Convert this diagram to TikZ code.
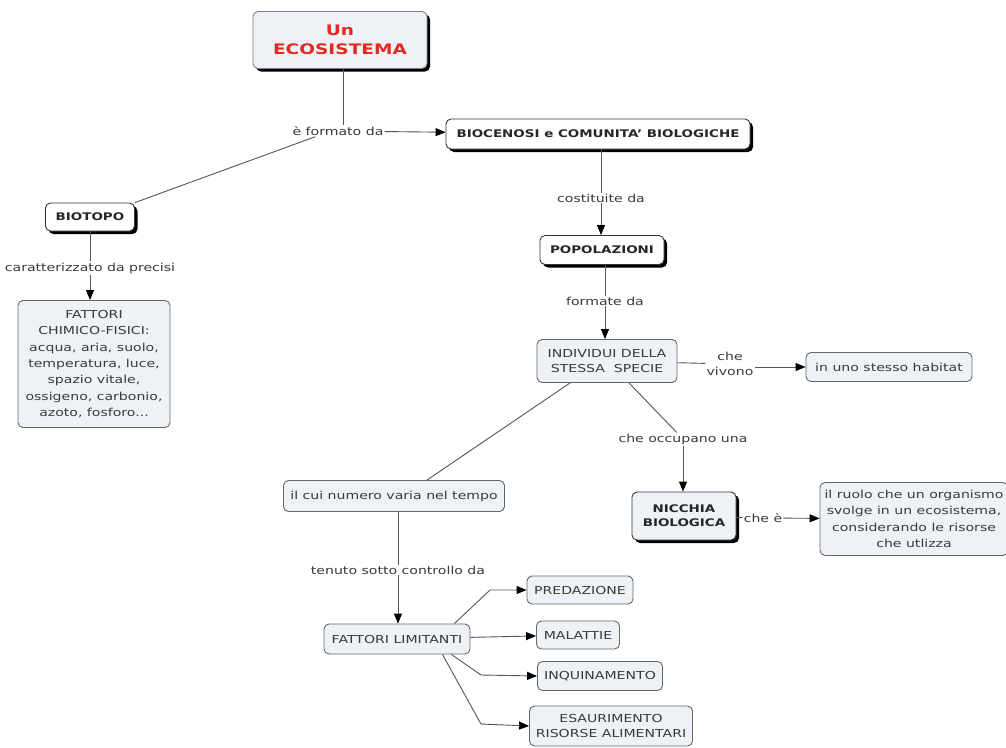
\documentclass[tikz,border=0pt]{standalone}
\usepackage{fontspec}
\setmainfont{DejaVu Sans}[FakeStretch=1.28]
\usetikzlibrary{shadows,arrows.meta,calc}
\definecolor{boxfill}{HTML}{EEF2F6}
\definecolor{txt}{HTML}{3A3A3A}
\definecolor{linec}{HTML}{555555}
\definecolor{titred}{HTML}{E02A22}
\begin{document}
\begin{tikzpicture}[x=1pt,y=-1pt,
 box/.style={draw=gray!80!black, rounded corners=5pt, fill=boxfill, align=center, text=txt,
   font=\fontsize{11}{16.3}\selectfont, inner sep=2pt, line width=0.9pt},
 boldbox/.style={box, fill=white, draw=black!80, font=\bfseries\fontsize{10.5}{14}\selectfont, text=black!85,
   drop shadow={shadow xshift=3pt, shadow yshift=-3pt, fill=black, opacity=1}},
 lab/.style={fill=white, text=txt, font=\fontsize{11}{15}\selectfont, inner sep=1pt, align=center},
 con/.style={draw=linec, line width=0.9pt},
 arr/.style={con, -{Triangle[length=10pt,width=8pt,color=black]}}]
\useasboundingbox (0,0) rectangle (1006,747);
\fill[white] (0,0) rectangle (1006,747);

% nodes
\node[boldbox, draw=gray, fill=boxfill, minimum width=174, minimum height=57, text=titred,
  font=\bfseries\fontsize{14.5}{19}\selectfont] (eco) at (340,40) {Un\\ECOSISTEMA};
\node[boldbox, minimum width=304, minimum height=30] (bio) at (598,134) {BIOCENOSI e COMUNITA' BIOLOGICHE};
\node[boldbox, minimum width=89, minimum height=28] (biot) at (90,217) {BIOTOPO};
\node[box, minimum width=152, minimum height=127] (fatt) at (94,364)
  {FATTORI\\CHIMICO-FISICI:\\acqua, aria, suolo,\\temperatura, luce,\\spazio vitale,\\ossigeno, carbonio,\\azoto, fosforo...};
\node[boldbox, minimum width=124, minimum height=29] (pop) at (602,250) {POPOLAZIONI};
\node[box, minimum width=140, minimum height=43, font=\fontsize{11}{15}\selectfont] (ind) at (607,361) {INDIVIDUI DELLA\\STESSA~~SPECIE};
\node[box, minimum width=166, minimum height=29] (hab) at (889,367) {in uno stesso habitat};
\node[boldbox, fill=boxfill, minimum width=104, minimum height=48] (nic) at (684,516) {NICCHIA\\BIOLOGICA};
\node[box, minimum width=188, minimum height=73] (ruolo) at (914,519)
  {il ruolo che un organismo\\svolge in un ecosistema,\\considerando le risorse\\che utlizza};
\node[box, minimum width=221, minimum height=31] (num) at (394,496) {il cui numero varia nel tempo};
\node[box, minimum width=146, minimum height=30] (flim) at (397,639) {FATTORI LIMITANTI};
\node[box, minimum width=106, minimum height=28] (pred) at (580,590) {PREDAZIONE};
\node[box, minimum width=83, minimum height=28] (mal) at (578,635) {MALATTIE};
\node[box, minimum width=125, minimum height=29] (inq) at (600,676) {INQUINAMENTO};
\node[box, minimum width=163, minimum height=40, font=\fontsize{11}{15}\selectfont] (esa) at (611,726) {ESAURIMENTO\\RISORSE ALIMENTARI};

% labels
\node[lab] (l1) at (338,131) {è formato da};
\node[lab] (l2) at (90,268) {caratterizzato da precisi};
\node[lab] (l3) at (601,198) {costituite da};
\node[lab] (l4) at (605,301) {formate da};
\node[lab] (l5) at (730,364) {che\\vivono};
\node[lab] (l6) at (683,439) {che occupano una};
\node[lab] (l7) at (763,518) {che è};
\node[lab] (l8) at (398,570) {tenuto sotto controllo da};

% connectors
\draw[con] (eco.south -| 343,0) -- (l1.north -| 343,0);
\draw[arr] (l1) -- (bio);
\draw[con] ($(l1.south west)+(24,0)$) -- (biot.north east);
\draw[con] (l2 |- biot.south) -- (l2);
\draw[arr] (l2) -- (l2 |- fatt.north);
\draw[con] (l3 |- bio.south) -- (l3);
\draw[arr] (l3) -- (l3 |- pop.north);
\draw[con] (l4 |- pop.south) -- (l4);
\draw[arr] (l4) -- (l4 |- ind.north);
\draw[con] (ind) -- (l5);
\draw[arr] (l5.east |- hab) -- (hab);
\draw[con] ($(ind.south)+(22,0)$) -- (l6);
\draw[arr] (l6) -- (l6 |- nic.north);
\draw[con] (nic) -- (l7);
\draw[arr] (l7) -- (ruolo);
\draw[con] ($(ind.south)+(-37,0)$) -- ($(num.north)+(33,0)$);
\draw[con] (l8 |- num.south) -- (l8);
\draw[arr] (l8) -- (l8 |- flim.north);
\draw[arr] ($(flim.north east)+(-16,0)$) -- (490,590) -- (pred.west);
\draw[arr] (flim) -- (mal);
\draw[arr] ($(flim.south east)+(-19,0)$) -- (481,675) -- (inq.west);
\draw[arr] ($(flim.south east)+(-28,0)$) -- (481,724) -- (esa.west);
\end{tikzpicture}
\end{document}
